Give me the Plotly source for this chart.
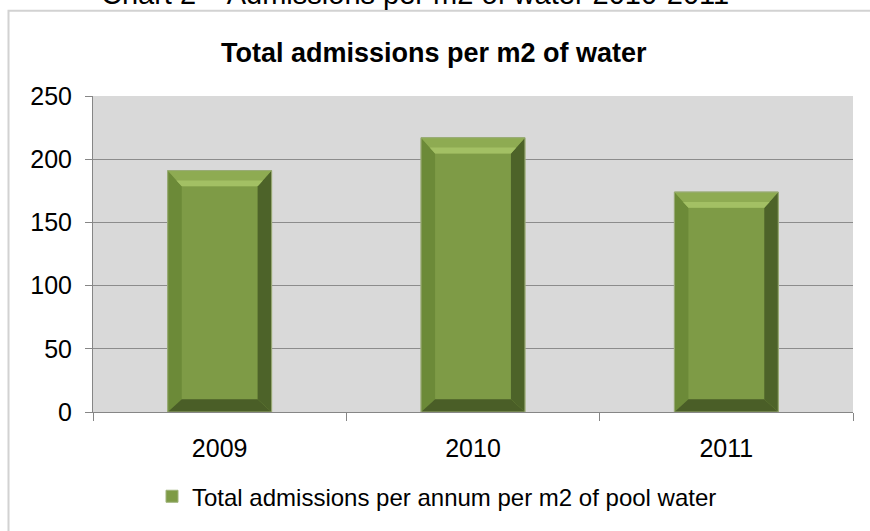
import plotly.graph_objects as go

# Admissions data
years = ["2009", "2010", "2011"]
admissions = [191, 217, 174]
y_ticks = [0, 50, 100, 150, 200, 250]

series_name = "Total admissions per annum per m2 of pool water"
chart_title = "Total admissions per m2 of water"
doc_caption = "Chart 2 \u2013 Admissions per m2 of water 2010-2011"

W, H = 870, 531
M_L, M_R, M_T, M_B = 93, 17, 96, 114
PLOT_W = W - M_L - M_R
PLOT_H = H - M_T - M_B
Y_MAX = 250
BAR_W = 0.41

# pixel -> data unit helpers for the bevel decoration
px_x = 3.0 / PLOT_W
px_y = Y_MAX / PLOT_H

FONT = "Arial, Liberation Sans, sans-serif"

fig = go.Figure()
fig.add_trace(go.Bar(
    x=list(range(len(years))), y=admissions, width=BAR_W,
    name=series_name,
    marker=dict(color="#7e9b46", line=dict(color="#9fb27a", width=1)),
    showlegend=True,
))

shapes = []
for i, v in enumerate(admissions):
    x0, x1 = i - BAR_W / 2, i + BAR_W / 2
    bx = 14 * px_x
    by_top = 16 * px_y
    by_bot = 13 * px_y
    # left bevel
    shapes.append(dict(type="path", xref="x", yref="y", layer="above",
                       path=f"M{x0},0 L{x0},{v} L{x0+bx},{v-by_top} L{x0+bx},{by_bot} Z",
                       fillcolor="#6c8a38", line=dict(width=0)))
    # right bevel
    shapes.append(dict(type="path", xref="x", yref="y", layer="above",
                       path=f"M{x1},0 L{x1},{v} L{x1-bx},{v-by_top} L{x1-bx},{by_bot} Z",
                       fillcolor="#4d6329", line=dict(width=0)))
    # bottom bevel
    shapes.append(dict(type="path", xref="x", yref="y", layer="above",
                       path=f"M{x0},0 L{x1},0 L{x1-bx},{by_bot} L{x0+bx},{by_bot} Z",
                       fillcolor="#4a5e27", line=dict(width=0)))
    # top bevel
    shapes.append(dict(type="path", xref="x", yref="y", layer="above",
                       path=f"M{x0},{v} L{x1},{v} L{x1-bx},{v-by_top} L{x0+bx},{v-by_top} Z",
                       fillcolor="#8eab52", line=dict(width=0)))
    # highlight strip along the inner top edge
    hy = 6 * px_y
    shapes.append(dict(type="path", xref="x", yref="y", layer="above",
                       path=(f"M{x0+bx*0.62},{v-by_top+hy} L{x1-bx*0.62},{v-by_top+hy} "
                             f"L{x1-bx},{v-by_top} L{x0+bx},{v-by_top} Z"),
                       fillcolor="#a3c064", line=dict(width=0)))
    # faint outline
    shapes.append(dict(type="rect", xref="x", yref="y", layer="above",
                       x0=x0, x1=x1, y0=0, y1=v,
                       fillcolor="rgba(0,0,0,0)", line=dict(color="#9aab78", width=1)))

# outer chart border (runs off the right and bottom edges)
shapes.append(dict(type="rect", xref="paper", yref="paper", layer="below",
                   x0=(8.5 - M_L) / PLOT_W, x1=2.0,
                   y0=-2.0, y1=(H - M_B - 9.5) / PLOT_H,
                   fillcolor="rgba(0,0,0,0)", line=dict(color="#d2d2d2", width=2)))

annotations = [
    dict(text=f"<b>{chart_title}</b>", xref="paper", yref="paper",
         x=(434 - M_L) / PLOT_W, y=(H - M_B - 52) / PLOT_H,
         xanchor="center", yanchor="middle", showarrow=False,
         font=dict(family=FONT, size=27, color="#000000")),
    # document caption sitting above the chart frame, partly out of view
    dict(text=doc_caption, xref="paper", yref="paper",
         x=(415 - M_L) / PLOT_W, y=(H - M_B - 11) / PLOT_H,
         xanchor="center", yanchor="bottom", showarrow=False,
         font=dict(family=FONT, size=29, color="#000000")),
]

fig.update_layout(
    width=W, height=H,
    margin=dict(l=M_L, r=M_R, t=M_T, b=M_B),
    paper_bgcolor="white", plot_bgcolor="#d9d9d9",
    font=dict(family=FONT, size=24, color="#000000"),
    shapes=shapes, annotations=annotations,
    legend=dict(orientation="h", x=(152 - M_L) / PLOT_W, xanchor="left",
                y=(H - M_B - 503) / PLOT_H, yanchor="middle",
                font=dict(family=FONT, size=24), itemwidth=30,
                bgcolor="rgba(0,0,0,0)"),
    xaxis=dict(tickmode="array", tickvals=list(range(len(years))), ticktext=years,
               range=[-0.5, len(years) - 0.5],
               showline=True, linecolor="#868686", linewidth=1,
               showgrid=False, zeroline=False,
               tickfont=dict(family=FONT, size=25), ticklabelstandoff=14),
    yaxis=dict(range=[0, Y_MAX], tickvals=y_ticks,
               showline=True, linecolor="#868686", linewidth=1,
               ticks="outside", ticklen=7, tickcolor="#868686",
               gridcolor="#8c8c8c", gridwidth=1, zeroline=False,
               tickfont=dict(family=FONT, size=25), ticklabelstandoff=8),
)

# boundary tick marks between categories
fig.update_xaxes(minor=dict(tickvals=[-0.5, 0.5, 1.5, 2.5], ticks="outside",
                            ticklen=8, tickcolor="#868686"),
                 ticks="")

fig.write_html("out.html")
